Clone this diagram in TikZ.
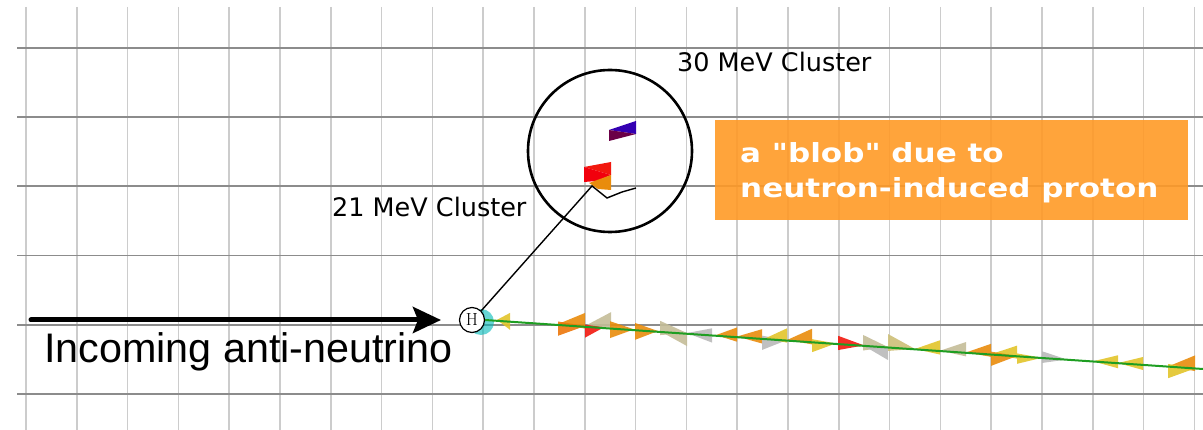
\documentclass[tikz,border=0pt]{standalone}
\usepackage{fontspec}
\usepackage{tikz}
\usetikzlibrary{arrows.meta}

\newfontfamily\labelfont{DejaVu Sans}
\newfontfamily\blobfont{DejaVu Sans Bold}[FakeStretch=1.18]
\newfontfamily\arialfont{Liberation Sans}

\definecolor{hgrid}{HTML}{8C8C8C}
\definecolor{vgrid}{HTML}{CCCCCC}
\definecolor{boxorange}{HTML}{FF9A26}
\definecolor{hitY}{HTML}{E2C42A}
\definecolor{hitO}{HTML}{E98C0C}
\definecolor{hitK}{HTML}{C4BD98}
\definecolor{hitG}{HTML}{B9B9B9}
\definecolor{hitR}{HTML}{F2180E}
\definecolor{trackgreen}{HTML}{1E9E22}

\tikzset{
  vline/.style={vgrid, line width=1.6},
  hline/.style={hgrid, line width=1.8},
  beam/.style={line width=5, line cap=round, -{Stealth[length=28, width=26, inset=5]}},
  lbl/.style={font=\labelfont\fontsize{25.5}{30}\selectfont, inner sep=0},
  vtx/.style={circle, draw, fill=white, line width=1.2, minimum size=25, inner sep=0, font=\fontsize{17.5}{20}\selectfont},
}

\begin{document}
\begin{tikzpicture}[x=1pt,y=-1pt]
    \useasboundingbox (0,0) rectangle (1203,430);

    % detector grid
    \foreach \i in {0,...,23}
        \draw[vline] ({26+50.8*\i},7) -- ({26+50.8*\i},430);
    \foreach \j in {0,...,5}
        \draw[hline] (17,{48+69.2*\j}) -- (1203,{48+69.2*\j});

    % hits along the track: edge x / tip x / above / below / colour
    \foreach \e/\t/\u/\d/\c in {
        510/497/6/7/hitY,
        585/558/10/2/hitO, 558/585/2/9/hitO!85!red,
        611/585/12/0/hitK, 585/604/1/9/hitR,
        610/634/5/8/hitO, 635/658/5/8/hitO,
        660/687/8/3/hitK, 687/660/0/10/hitK,
        712/687/5/6/hitG,
        737/716/7/4/hitO, 762/737/7/4/hitO,
        762/787/2/9/hitG, 787/765/9/2/hitY,
        812/787/10/2/hitO, 812/836/2/8/hitY,
        838/864/6/5/hitR,
        863/888/8/4/hitK, 888/863/0/10/hitG,
        888/915/10/3/hitK!70!hitY,
        940/915/8/3/hitY, 966/940/8/3/hitK,
        991/966/8/2/hitO,
        1017/991/8/2/hitY, 991/1017/2/9/hitO,
        1017/1042/2/6/hitY, 1042/1067/5/4/hitG,
        1118/1093/6/4/hitY, 1143/1118/6/4/hitY,
        1195/1168/10/2/hitO, 1168/1195/2/9/hitY}
        \fill[\c, opacity=0.9] (\e,{319+0.0696*(\e-485)-1.3*\u}) -- (\e,{319+0.0696*(\e-485)+1.3*\d}) -- (\t,{319+0.0696*(\t-485)}) -- cycle;

    % vertex
    \fill[teal!55!cyan, opacity=0.6] (481,322) circle (13);
    \node[vtx] (hvtx) at (472,320) {H};
    \coordinate (trkend) at (1203,369);
    \draw[trackgreen, line width=2] (hvtx.east) -- (trkend);

    % incoming beam
    \coordinate (beamstart) at (31,320);
    \coordinate (beamend) at (441,320);
    \draw[beam] (beamstart) -- (beamend);
    \node[font=\arialfont\fontsize{41.3}{44}\selectfont, anchor=base west, inner sep=0] (nulbl) at (44,363) {Incoming anti-neutrino};

    % zoomed clusters
    \draw[line width=2.6] (610,151) ellipse (82 and 81);
    \fill[hitR] (584,167) -- (611,162) -- (611,175) -- cycle;
    \fill[red!80!purple] (584,167) -- (611,175) -- (597,181) -- (584,182) -- cycle;
    \fill[hitO] (589,183) -- (611,175) -- (611,190) -- (598,189) -- cycle;
    \fill[blue!55!violet!90!black] (609,130) -- (636,121) -- (636,134) -- cycle;
    \fill[violet!80!red!70!black] (609,130) -- (636,134) -- (609,141) -- cycle;

    \coordinate (kinkA) at (592,186);
    \coordinate (kinkB) at (607,198);
    \coordinate (kinkC) at (622,192);
    \coordinate (kinkD) at (636,188);
    \draw[line width=1.4] (hvtx.north east) -- (kinkA) -- (kinkB) -- (kinkC) -- (kinkD);

    \node[lbl, anchor=base west] (lbl30) at (677,72) {30 MeV Cluster};
    \node[lbl, anchor=base west] (lbl21) at (332,217) {21 MeV Cluster};

    % blob note
    \fill[boxorange, opacity=0.9] (715,120) rectangle (1188,220);
    \node[anchor=base west, inner sep=0, white, font=\blobfont\fontsize{26.3}{30}\selectfont] (blobA) at (740,163) {a "blob" due to};
    \node[anchor=base west, inner sep=0, white, font=\blobfont\fontsize{26.3}{30}\selectfont] (blobB) at (740,198) {neutron-induced proton};
\end{tikzpicture}
\end{document}
